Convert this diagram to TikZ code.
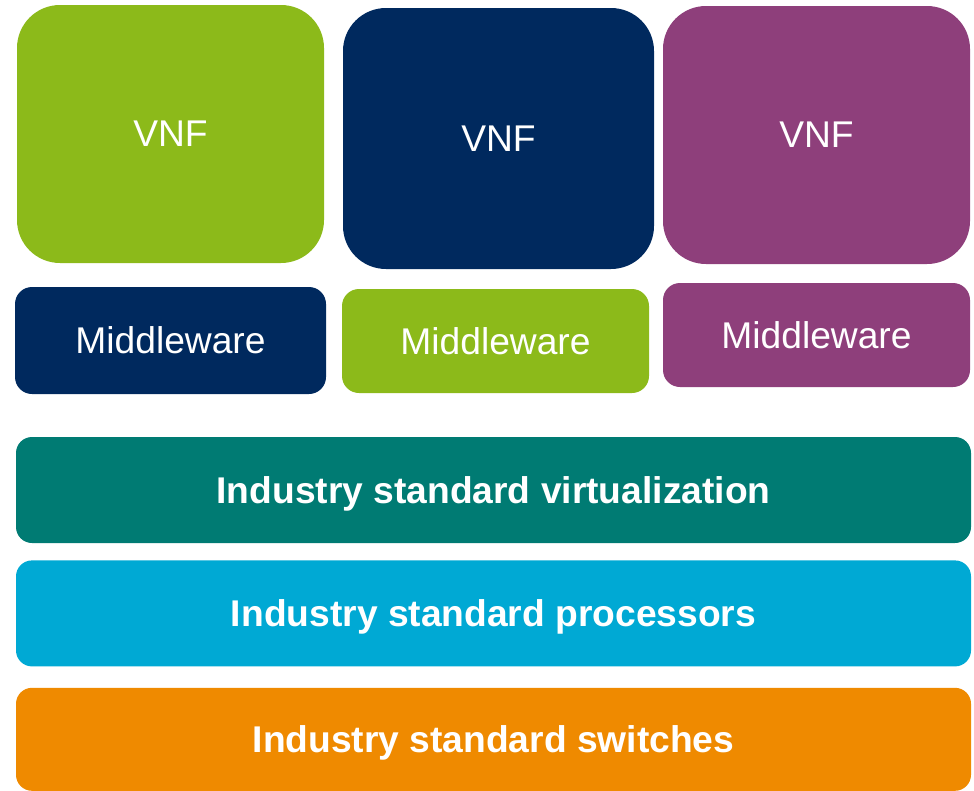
\documentclass[tikz,border=0pt]{standalone}
\usepackage{fontspec}
\setmainfont{Liberation Sans}
\usetikzlibrary{positioning}
\definecolor{vnfGreen}{RGB}{140,186,26}
\definecolor{vnfNavy}{RGB}{0,41,94}
\definecolor{vnfPurple}{RGB}{142,63,123}
\definecolor{virtColor}{RGB}{0,123,115}
\definecolor{cpuColor}{RGB}{0,169,212}
\definecolor{switchColor}{RGB}{239,138,0}
\tikzset{layer/.style={text=white, align=center, inner sep=0pt, text depth=0pt, font=\fontsize{37.2}{40}\selectfont}}
\tikzset{vnf/.style={layer, minimum width=307pt, minimum height=258pt, rounded corners=43pt}}
\tikzset{middleware/.style={layer, minimum width=307pt, minimum height=104pt, rounded corners=17pt}}
\tikzset{platform/.style={layer, minimum width=955pt, minimum height=106pt, rounded corners=16pt, font=\fontsize{37.2}{40}\selectfont\bfseries}}

\begin{document}
\begin{tikzpicture}[x=1pt, y=-1pt]
\useasboundingbox (0,0) rectangle (974,790);
% VNFs
\node (vnfA) [vnf, fill=vnfGreen] at (170.5,134) {VNF};
\node (vnfB) [vnf, fill=vnfNavy, minimum width=311pt, minimum height=261pt] at (498.5,138.5) {VNF};
\node (vnfC) [vnf, fill=vnfPurple] at (816.5,135) {VNF};

% Middleware
\node (midA) [middleware, fill=vnfNavy, minimum width=311pt, minimum height=107pt] at (170.5,340.5) {Middleware};
\node (midB) [middleware, fill=vnfGreen] at (495.5,341) {Middleware};
\node (midC) [middleware, fill=vnfPurple] at (816.5,335) {Middleware};

% Platform
\node (virt) [platform, fill=virtColor] at (493.5,490) {Industry standard virtualization};
\node (cpu) [platform, fill=cpuColor, below=17pt of virt] {Industry standard processors};
\node (switch) [platform, fill=switchColor, minimum height=103pt, below=21pt of cpu] {Industry standard switches};

\end{tikzpicture}
\end{document}
